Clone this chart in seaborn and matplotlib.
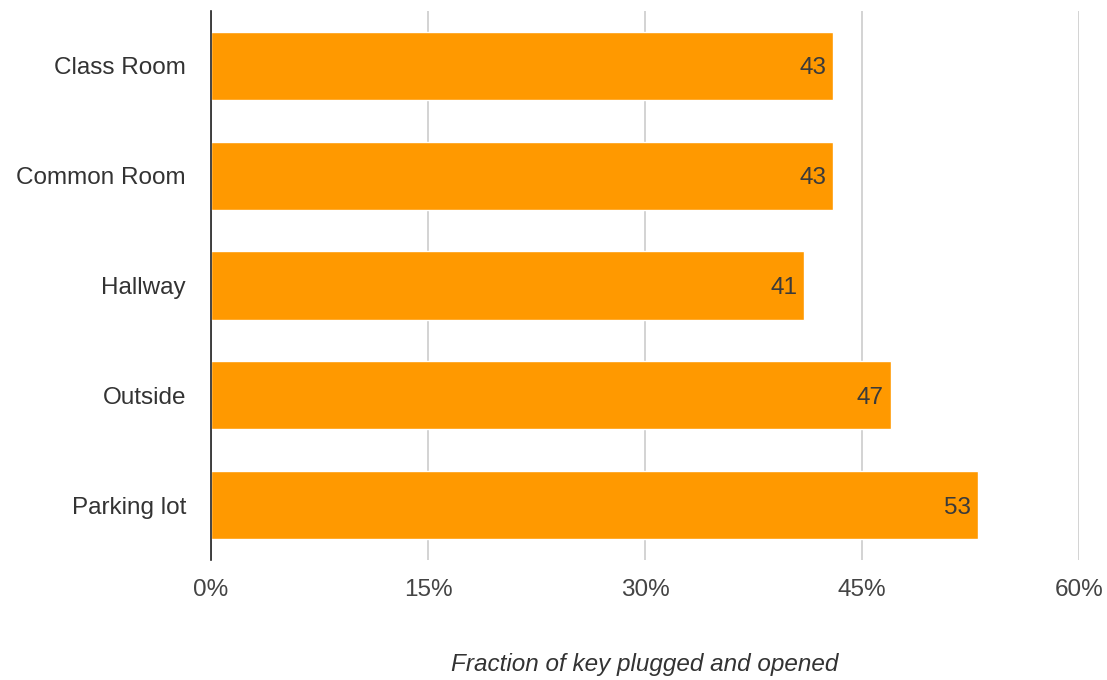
import matplotlib
matplotlib.use("Agg")
import matplotlib.pyplot as plt
import seaborn as sns
import pandas as pd
from matplotlib.ticker import FuncFormatter

locations = ["Class Room", "Common Room", "Hallway", "Outside", "Parking lot"]
fractions = [43, 43, 41, 47, 53]
x_ticks = [0, 15, 30, 45, 60]
x_label = "Fraction of key plugged and opened"

df = pd.DataFrame({"location": locations, "fraction": fractions})

sns.set_theme(style="white")
plt.rcParams["font.family"] = ["Liberation Sans", "DejaVu Sans"]

fig = plt.figure(figsize=(11.07, 6.8), dpi=100)
ax = fig.add_axes([211 / 1107, 1 - 560 / 680, 868 / 1107, 549 / 680])

sns.barplot(data=df, x="fraction", y="location", orient="h", color="#FF9900",
            saturation=1, width=0.62, ax=ax, zorder=3)

for i, v in enumerate(fractions):
    ax.annotate(str(v), xy=(v, i), xytext=(-7, 0), textcoords="offset pixels",
                ha="right", va="center_baseline", fontsize=17.5, color="#3a3a3a", zorder=4)

ax.set_xlim(0, 60)
ax.set_ylim(4.5, -0.5)
ax.set_xticks(x_ticks)
ax.xaxis.set_major_formatter(FuncFormatter(lambda x, _: f"{int(x)}%"))
ax.grid(axis="x", color="#cccccc", linewidth=1.2, zorder=0)
ax.grid(axis="y", visible=False)

for s in ["top", "right", "bottom"]:
    ax.spines[s].set_visible(False)
ax.spines["left"].set_color("#222222")
ax.spines["left"].set_linewidth(1.2)
ax.spines["left"].set_zorder(5)

ax.tick_params(axis="x", length=0, pad=14, labelsize=17.5, labelcolor="#444444")
ax.tick_params(axis="y", length=0, pad=18, labelsize=17.5, labelcolor="#333333")
ax.set_ylabel("")
ax.set_xlabel(x_label, fontsize=17.5, style="italic", color="#333333", va="center")
ax.xaxis.set_label_coords(0.5, -105 / 549)

fig.savefig("out.png", dpi=100)
